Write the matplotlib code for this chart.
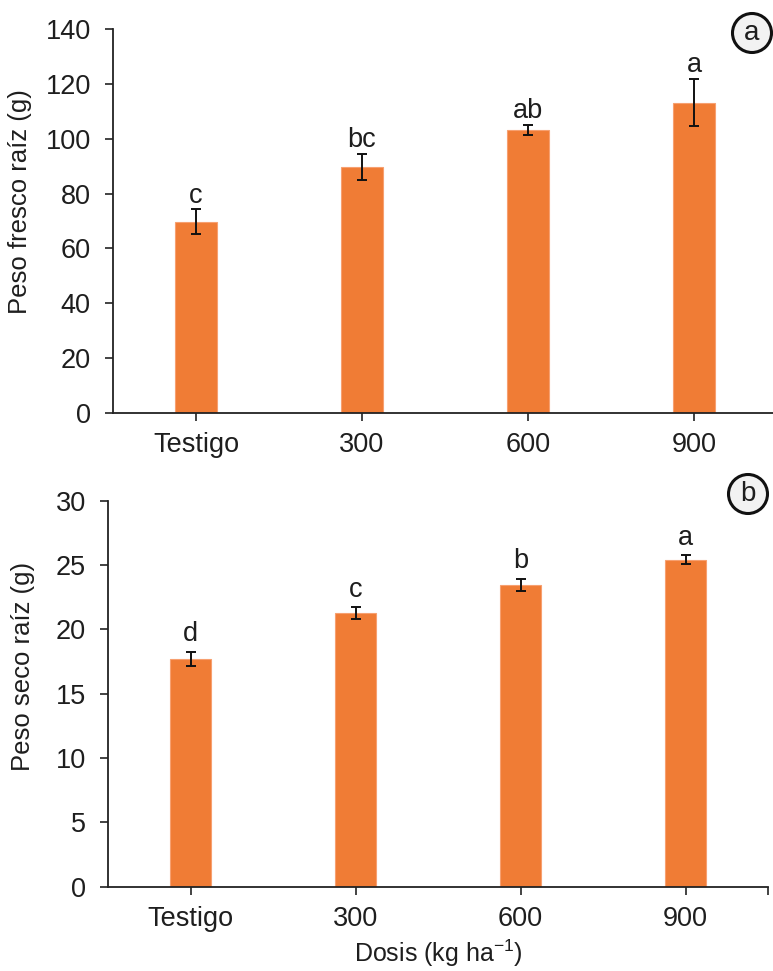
import matplotlib
matplotlib.use("Agg")
import matplotlib.pyplot as plt
from matplotlib.patches import Ellipse
import numpy as np

plt.rcParams['font.family'] = ['Liberation Sans', 'DejaVu Sans']
plt.rcParams['mathtext.fontset'] = 'custom'
plt.rcParams['mathtext.rm'] = 'Liberation Sans'
plt.rcParams['mathtext.default'] = 'rm'

categories = ["Testigo", "300", "600", "900"]

fresh_mean = [69.7, 89.8, 103.2, 113.2]
fresh_err = [4.5, 4.8, 1.8, 8.5]
fresh_letters = ["c", "bc", "ab", "a"]

dry_mean = [17.7, 21.25, 23.45, 25.42]
dry_err = [0.57, 0.48, 0.47, 0.35]
dry_letters = ["d", "c", "b", "a"]

BAR = "#F07C35"
EDGE = "#F7A070"
TXT = "#1e1e1e"

W, H = 773, 971
fig = plt.figure(figsize=(W / 100, H / 100), dpi=100)


def axes_px(left, right, top, bottom):
    return fig.add_axes([left / W, 1 - bottom / H, (right - left) / W, (bottom - top) / H])


def panel(ax, means, errs, letters, ymax, step, ylabel, gap, label_xy):
    x = np.arange(len(categories))
    ax.bar(x, means, width=0.25, color=BAR, edgecolor=EDGE, linewidth=0.8, zorder=2)
    ax.errorbar(x, means, yerr=errs, fmt="none", ecolor="#111111",
                elinewidth=1.4, capsize=3.6, capthick=1.4, zorder=3)
    for xi, m, e, lab in zip(x, means, errs, letters):
        ax.text(xi, m + e + gap, lab, ha="center", va="bottom",
                fontsize=19.5, color=TXT)
    ax.set_xlim(-0.5, 3.5)
    ax.set_ylim(0, ymax)
    ax.set_yticks(np.arange(0, ymax + step / 2, step))
    ax.set_xticks(x)
    ax.set_xticklabels(categories)
    for s in ("top", "right"):
        ax.spines[s].set_visible(False)
    for s in ("left", "bottom"):
        ax.spines[s].set_linewidth(1.3)
        ax.spines[s].set_color("#222222")
    ax.tick_params(axis="both", labelsize=19.5, colors="#222222", labelcolor=TXT,
                   length=6, width=1.2)
    ax.tick_params(axis="x", pad=8)
    ax.tick_params(axis="y", pad=10)
    ax.set_ylabel(ylabel, fontsize=18.5, color=TXT)
    ax.yaxis.set_label_coords(*label_xy)


ax1 = axes_px(113, 777, 29, 413)
panel(ax1, fresh_mean, fresh_err, fresh_letters, 140, 20,
      "Peso fresco raíz (g)", 0.3, (-0.122, 0.55))

ax2 = axes_px(108, 768, 500.7, 886.7)
panel(ax2, dry_mean, dry_err, dry_letters, 30, 5,
      "Peso seco raíz (g)", 0.35, (-0.111, 0.57))
ax2.set_xticks([3.5], minor=True)
ax2.tick_params(axis="x", which="minor", length=6, width=1.2, colors="#222222")
ax2.set_xlabel("Dosis (kg ha$^{-1}$)", fontsize=18, color=TXT, labelpad=4)

# panel tags in circles
for cx, cy, tag in [(752, 33, "a"), (748, 494, "b")]:
    circ = Ellipse((cx / W, 1 - cy / H), 39 / W, 39 / H, transform=fig.transFigure,
                   facecolor="#f2f2f2", edgecolor="#111111", linewidth=2.2)
    fig.patches.append(circ)
    fig.text(cx / W, 1 - cy / H, tag, ha="center", va="center",
             fontsize=20, color=TXT)

fig.savefig("out.png", dpi=100, facecolor="white")
